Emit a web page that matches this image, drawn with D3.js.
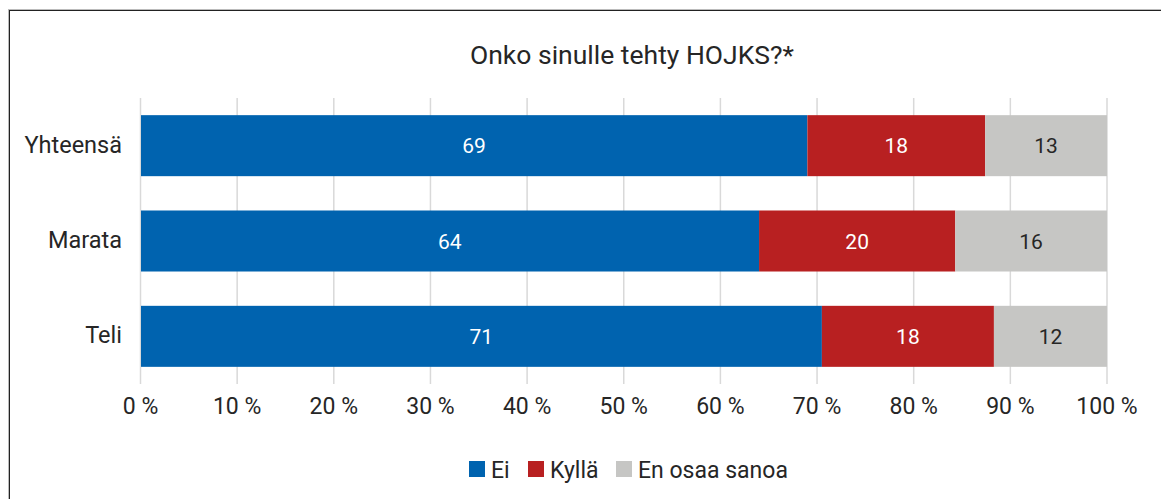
<!DOCTYPE html>
<html>
<head>
<meta charset="utf-8">
<script src="https://cdn.jsdelivr.net/npm/d3@7"></script>
<style>
body{margin:0;background:#fff;}
svg{display:block;font-family:Roboto, "Open Sans", sans-serif;}
</style>
</head>
<body>
<svg></svg>
<script>
const width = 1161;
const height = 499;

const title = 'Onko sinulle tehty HOJKS?*';
const categories = ['Yhteensä', 'Marata', 'Teli'];
const seriesNames = ['Ei', 'Kyllä', 'En osaa sanoa'];
const ei = [69.0, 64.0, 70.5];
const kylla = [18.4, 20.3, 17.8];
const eos = [12.6, 15.7, 11.7];
const labelsEi = [69, 64, 71];
const labelsKylla = [18, 20, 18];
const labelsEos = [13, 16, 12];
const ticks = [0, 10, 20, 30, 40, 50, 60, 70, 80, 90, 100];

const colors = ['#0063af', '#b82021', '#c6c6c4'];
const textColors = ['#fff', '#fff', '#262626'];

var svg = d3.select('svg').attr('width', width).attr('height', height);

// frame
svg.append('rect')
.attr('x', 8.5).attr('y', 9.5).attr('width', width).attr('height', height)
.style('fill', 'none').style('stroke', '#bbb').style('stroke-width', 1);
svg.append('rect')
.attr('x', 9.5).attr('y', 10.5).attr('width', width).attr('height', height)
.style('fill', 'none').style('stroke', '#222').style('stroke-width', 1);

var x = d3.scaleLinear().domain([0, 100]).range([140.5, 1107]);
var y = d3.scaleBand().domain(categories).range([98, 384]).paddingInner(0.36).paddingOuter(0.18);

// gridlines
svg.append('g').selectAll('line')
.data(ticks).enter().append('line')
.attr('x1', d => x(d)).attr('x2', d => x(d))
.attr('y1', 98).attr('y2', 384)
.style('stroke', '#d9d9d9').style('stroke-width', 1.5);

// stacked data
var rows = categories.map((c, i) => ({cat: c, values: [ei[i], kylla[i], eos[i]], labels: [labelsEi[i], labelsKylla[i], labelsEos[i]]}));
var segs = [];
rows.forEach(r => {
	var acc = 0;
	r.values.forEach((v, j) => {
		segs.push({cat: r.cat, x0: acc, x1: acc + v, label: r.labels[j], s: j});
		acc += v;
	});
});

svg.append('g').selectAll('rect')
.data(segs).enter().append('rect')
.attr('x', d => x(d.x0) + (d.s == 0 ? 0.5 : 0))
.attr('width', d => x(d.x1) - x(d.x0) - (d.s == 0 ? 0.5 : 0))
.attr('y', d => y(d.cat))
.attr('height', y.bandwidth())
.style('fill', d => colors[d.s]);

svg.append('g').selectAll('text')
.data(segs).enter().append('text')
.attr('x', d => (x(d.x0) + x(d.x1)) / 2)
.attr('y', d => y(d.cat) + y.bandwidth() / 2)
.attr('dy', '0.36em')
.attr('text-anchor', 'middle')
.style('font-size', '21px')
.style('fill', d => textColors[d.s])
.text(d => d.label);

// category labels
svg.append('g').selectAll('text')
.data(categories).enter().append('text')
.attr('x', 122)
.attr('y', d => y(d) + y.bandwidth() / 2)
.attr('dy', '0.3em')
.attr('text-anchor', 'end')
.style('font-size', '23.5px')
.style('fill', '#262626')
.text(d => d);

// x tick labels
svg.append('g').selectAll('text')
.data(ticks).enter().append('text')
.attr('x', d => x(d))
.attr('y', 414)
.attr('text-anchor', 'middle')
.style('font-size', '23px')
.style('fill', '#262626')
.text(d => d + ' %');

// title
svg.append('text')
.attr('x', 632).attr('y', 64)
.attr('text-anchor', 'middle')
.style('font-size', '26.5px')
.style('fill', '#262626')
.text(title);

// legend
var legendX = [469, 528, 616];
var legend = svg.append('g').selectAll('g')
.data(seriesNames).enter().append('g')
.attr('transform', (d, i) => 'translate(' + legendX[i] + ',461)');
legend.append('rect')
.attr('width', 16).attr('height', 16)
.style('fill', (d, i) => colors[i]);
legend.append('text')
.attr('x', 22).attr('y', 16.5)
.style('font-size', '23px')
.style('fill', '#262626')
.text(d => d);
</script>
</body>
</html>
